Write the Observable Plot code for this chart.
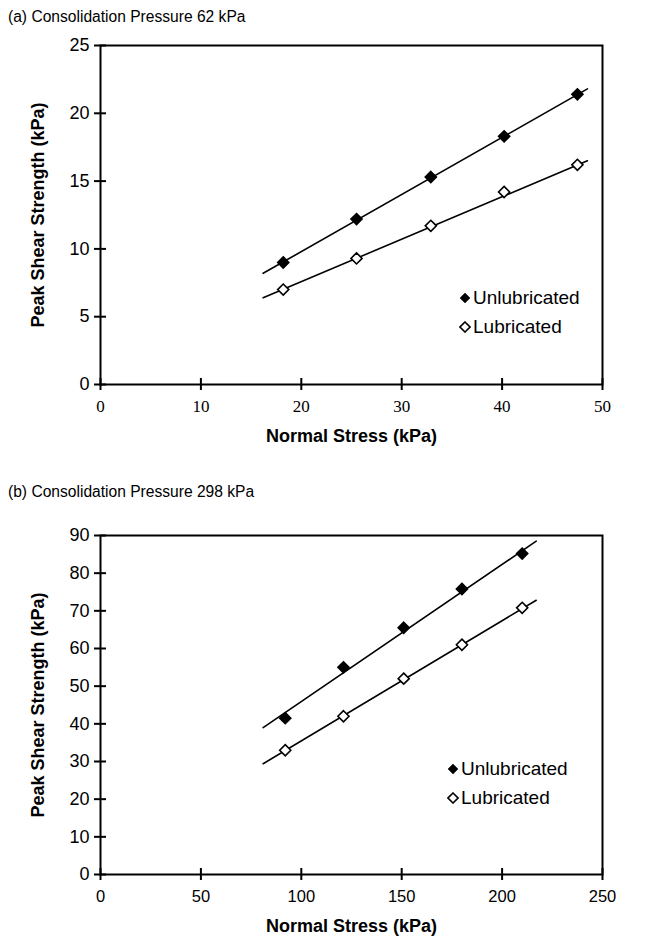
<!DOCTYPE html>
<html>
<head>
<meta charset="utf-8">
<script src="https://cdn.jsdelivr.net/npm/d3@7"></script>
<script src="https://cdn.jsdelivr.net/npm/@observablehq/plot@0.6"></script>
<style>
  html, body { margin: 0; padding: 0; background: #fff; }
  #root { position: relative; width: 652px; height: 952px; overflow: hidden; font-family: "Liberation Sans", Arial, sans-serif; color: #000; }
  .title { position: absolute; left: 8px; font-size: 15.6px; white-space: nowrap; }
  .panel { position: absolute; left: 0; }
  .legend { position: absolute; font-size: 19px; line-height: 1; }
  .legend div { display: flex; align-items: center; height: 29px; white-space: nowrap; }
  .legend svg { margin-right: 2px; }
</style>
</head>
<body>
<div id="root">
  <div class="title" style="top:8px">(a) Consolidation Pressure 62 kPa</div>
  <div id="panelA" class="panel" style="top:30px"></div>
  <div id="legendA" class="legend" style="left:459px; top:283px"></div>
  <div class="title" style="top:483px">(b) Consolidation Pressure 298 kPa</div>
  <div id="panelB" class="panel" style="top:520px"></div>
  <div id="legendB" class="legend" style="left:447px; top:754px"></div>
</div>
<script>
// ---- data ----
const seriesNames = ["Unlubricated", "Lubricated"];
const xTitle = "Normal Stress (kPa)";
const yTitle = "Peak Shear Strength (kPa)";

// (a) Consolidation Pressure 62 kPa
const aTitle = "(a) Consolidation Pressure 62 kPa";
const aStress = [18.2, 25.5, 32.9, 40.2, 47.5];
const aUnlub = [9.0, 12.2, 15.3, 18.3, 21.4];
const aLub = [7.0, 9.3, 11.7, 14.2, 16.2];
const aTrendX = [16.2, 48.5];
const aTrendUnlub = [8.2, 21.8];
const aTrendLub = [6.4, 16.5];
const aXTicks = [0, 10, 20, 30, 40, 50];
const aYTicks = [0, 5, 10, 15, 20, 25];

// (b) Consolidation Pressure 298 kPa
const bTitle = "(b) Consolidation Pressure 298 kPa";
const bStress = [92, 121, 151, 180, 210];
const bUnlub = [41.5, 55, 65.5, 75.8, 85.2];
const bLub = [33, 42, 52, 61, 70.8];
const bTrendX = [81, 217];
const bTrendUnlub = [39, 88.5];
const bTrendLub = [29.4, 72.8];
const bXTicks = [0, 50, 100, 150, 200, 250];
const bYTicks = [0, 10, 20, 30, 40, 50, 60, 70, 80, 90];

function buildRows(xs, ys1, ys2) {
  const rows = [];
  xs.forEach((x, i) => rows.push({series: seriesNames[0], x, y: ys1[i]}));
  xs.forEach((x, i) => rows.push({series: seriesNames[1], x, y: ys2[i]}));
  return rows;
}

function panel({xTicks, yTicks, pts, trend, xFont, xFontSize, tickPadX}) {
  return Plot.plot({
    width: 652,
    height: 424,
    marginLeft: 100,
    marginRight: 50,
    marginTop: 15,
    marginBottom: 70,
    style: {fontFamily: "'Liberation Sans', Arial, sans-serif", fontSize: "17px", color: "#000", background: "#fff", overflow: "visible"},
    x: {domain: [xTicks[0], xTicks[xTicks.length - 1]], label: null},
    y: {domain: [yTicks[0], yTicks[yTicks.length - 1]], label: null},
    marks: [
      Plot.frame({stroke: "#000", strokeWidth: 2}),
      Plot.axisY(yTicks, {tickSize: 12, dx: 6, tickFormat: () => "", strokeWidth: 2, label: null}),
      Plot.axisY(yTicks, {tickSize: 0, tickPadding: 11, label: null, fontSize: 18}),
      Plot.axisX(xTicks, {tickSize: 12, dy: -6, tickFormat: () => "", strokeWidth: 2, label: null}),
      Plot.axisX(xTicks, {tickSize: 0, tickPadding: tickPadX, label: null, fontSize: xFontSize, fontFamily: xFont}),
      Plot.text([yTitle], {text: d => d, frameAnchor: "left", textAnchor: "middle", rotate: -90, dx: -62, fontWeight: "bold", fontSize: 18}),
      Plot.text([xTitle], {text: d => d, frameAnchor: "bottom", textAnchor: "middle", dy: 57, fontWeight: "bold", fontSize: 18}),
      Plot.line(trend, {x: "x", y: "y", z: "series", stroke: "#000", strokeWidth: 1.6}),
      Plot.dot(pts, {x: "x", y: "y", symbol: "diamond2", r: 5,
        fill: d => d.series === seriesNames[0] ? "#000" : "#fff",
        stroke: "#000", strokeWidth: 1.6})
    ]
  });
}

function legend(el) {
  seriesNames.forEach((name, i) => {
    const row = document.createElement("div");
    const filled = i === 0;
    row.innerHTML = `<svg width="12" height="12" viewBox="-6 -6 12 12"><path d="M0,-5L5,0L0,5L-5,0Z" fill="${filled ? "#000" : "#fff"}" stroke="#000" stroke-width="${filled ? 0.5 : 1.6}"/></svg><span>${name}</span>`;
    el.appendChild(row);
  });
}

document.getElementById("panelA").appendChild(panel({
  xTicks: aXTicks, yTicks: aYTicks,
  pts: buildRows(aStress, aUnlub, aLub),
  trend: buildRows(aTrendX, aTrendUnlub, aTrendLub),
  xFont: "'Liberation Serif', 'Times New Roman', serif", xFontSize: 17, tickPadX: 15
}));
document.getElementById("panelB").appendChild(panel({
  xTicks: bXTicks, yTicks: bYTicks,
  pts: buildRows(bStress, bUnlub, bLub),
  trend: buildRows(bTrendX, bTrendUnlub, bTrendLub),
  xFont: "'Liberation Sans', Arial, sans-serif", xFontSize: 16.5, tickPadX: 16
}));
legend(document.getElementById("legendA"));
legend(document.getElementById("legendB"));
</script>
</body>
</html>
